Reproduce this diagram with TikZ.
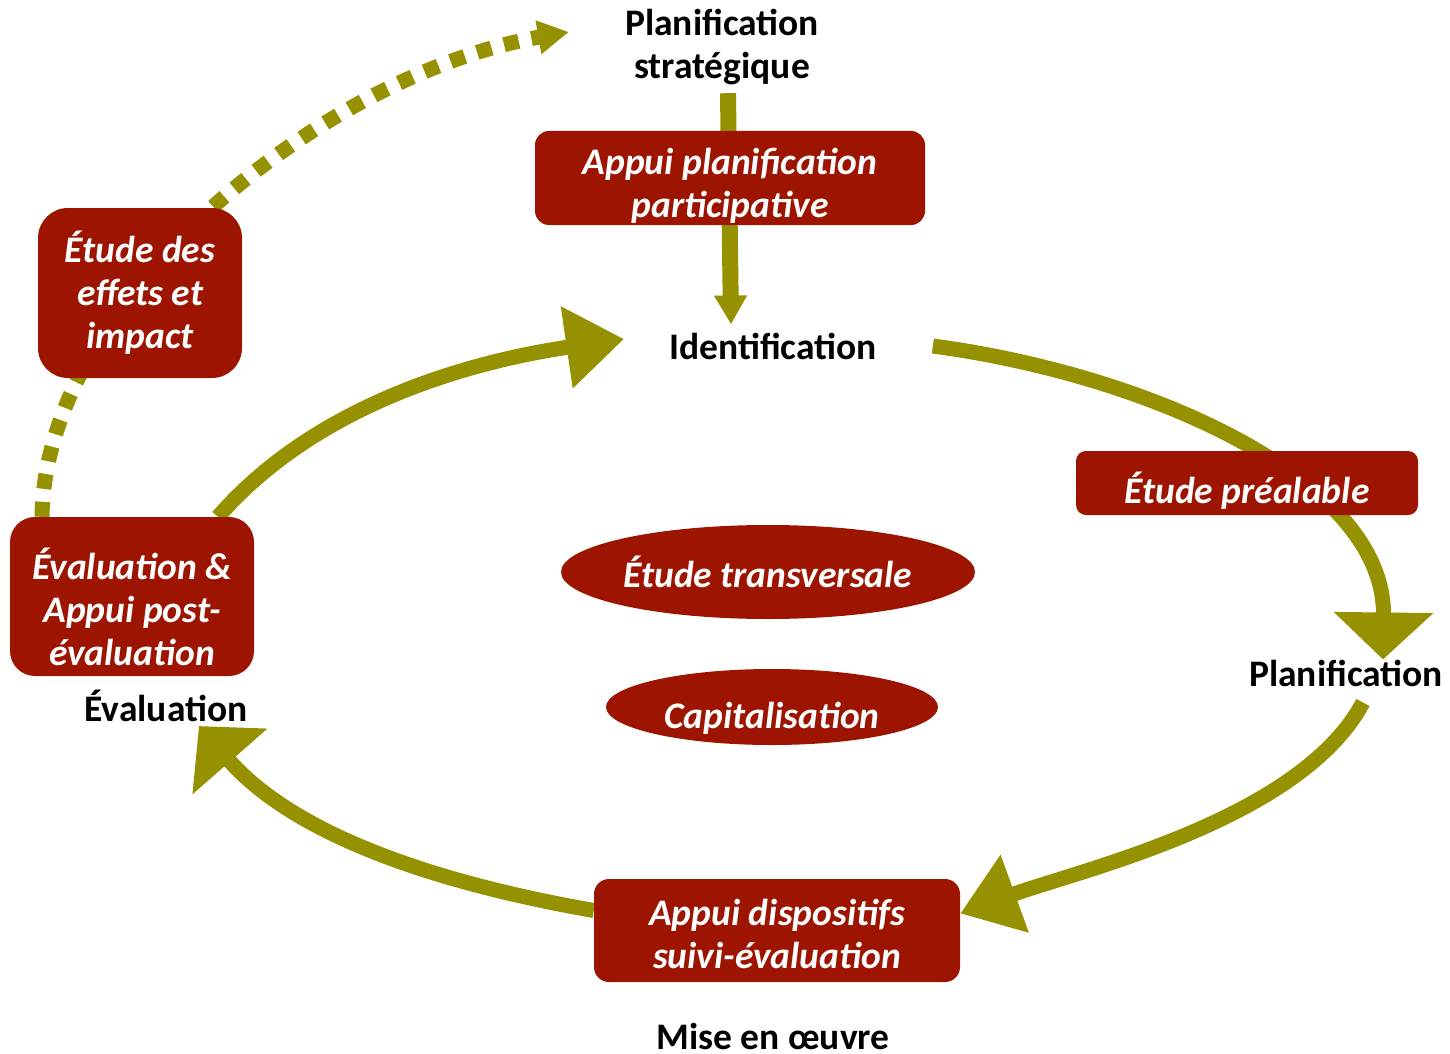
\documentclass[tikz,border=0pt]{standalone}
\usepackage{fontspec}
\setmainfont{Carlito}
\usetikzlibrary{arrows.meta,shapes.geometric}
\definecolor{boxred}{RGB}{157,21,0}
\definecolor{cyolive}{RGB}{150,145,0}
\pgfdeclarelayer{bg}
\pgfsetlayers{bg,main}
\newcommand{\lowtext}[2]{\raisebox{-#1}[\height][\depth]{\begin{tabular}{@{}c@{}}#2\end{tabular}}}
\begin{document}
\begin{tikzpicture}[x=1pt,y=-1pt,
  lbl/.style={font=\fontsize{37.5}{43}\selectfont\bfseries, align=center, inner sep=4pt, text=black},
  rbox/.style={fill=boxred, text=white, font=\fontsize{37.5}{43}\selectfont\bfseries\itshape, align=center, inner sep=0pt},
  oval/.style={ellipse, fill=boxred, text=white, font=\fontsize{37.5}{43}\selectfont\bfseries\itshape, inner sep=0pt},
  flow/.style={draw=cyolive, line width=15pt},
  bighead/.style={-{Triangle[width=97pt,length=47pt]}},
  midhead/.style={-{Triangle[width=79pt,length=58pt]}},
]
\useasboundingbox (0,0) rectangle (1450,1054);

% labels
\node[lbl] (strat) at (722,46) {\lowtext{2pt}{Planification\\stratégique}};
\node[lbl] (ident) at (773,346) {Identification};
\node[lbl] (plan) at (1346,673) {Planification};
\node[lbl, inner sep=1pt] (mise) at (773,1036) {Mise en œuvre};
\node[lbl] (evallbl) at (166,706) {Évaluation};

% boxes
\node[rbox, rounded corners=30pt, minimum width=204pt, minimum height=170pt] (effets) at (140,293) {\lowtext{3pt}{Étude des\\effets et\\impact}};
\node[rbox, rounded corners=25pt, minimum width=244pt, minimum height=159pt] (evalbox) at (132,596.5) {\lowtext{17pt}{Évaluation \&\\Appui post-\\évaluation}};
\node[rbox, rounded corners=14pt, minimum width=390pt, minimum height=94pt] (appuiplan) at (730,178) {\lowtext{9pt}{Appui planification\\participative}};
\node[rbox, rounded corners=10pt, minimum width=342pt, minimum height=64pt] (prealable) at (1247,483) {\lowtext{11pt}{Étude préalable}};
\node[rbox, rounded corners=15pt, minimum width=366pt, minimum height=103pt] (dispo) at (777,930.5) {\lowtext{8pt}{Appui dispositifs\\suivi-évaluation}};
\node[oval, minimum width=414pt, minimum height=94pt] (transv) at (768,572) {Étude transversale};
\node[oval, minimum width=332pt, minimum height=76pt] (capital) at (772,707) {\lowtext{13pt}{Capitalisation}};

\begin{pgfonlayer}{bg}
% vertical arrow
\draw[draw=cyolive, line width=16pt, -{Triangle[width=31pt,length=29pt]}]
  ([xshift=6pt]strat.south) -- ([xshift=-42pt,yshift=4pt]ident.north);
% identification -> planification
\draw[flow, bighead] ([xshift=52pt]ident.east) .. controls (1150,375) and (1385,480) .. ([xshift=37pt,yshift=-4pt]plan.north);
% planification -> mise en oeuvre
\draw[flow, midhead] ([xshift=17pt,yshift=-12pt]plan.south) .. controls (1300,820) and (1080,870) .. ([yshift=17pt]dispo.east);
% mise en oeuvre -> evaluation
\draw[flow, bighead] ([yshift=20pt]dispo.west) .. controls (420,880) and (290,830) .. ([xshift=33pt]evallbl.south);
% evaluation -> identification
\draw[flow, midhead] ([xshift=86pt]evalbox.north) .. controls (320,400) and (480,360) .. ([xshift=-41pt,yshift=7pt]ident.west);
% dotted arrow
\draw[draw=cyolive, line width=15pt, dash pattern=on 15pt off 13pt, -{Triangle[width=32pt,length=31pt]}]
  ([xshift=-90pt]evalbox.north) .. controls (45,300) and (320,75) .. ([xshift=-52pt,yshift=14pt]strat.west);
\end{pgfonlayer}
\end{tikzpicture}
\end{document}
